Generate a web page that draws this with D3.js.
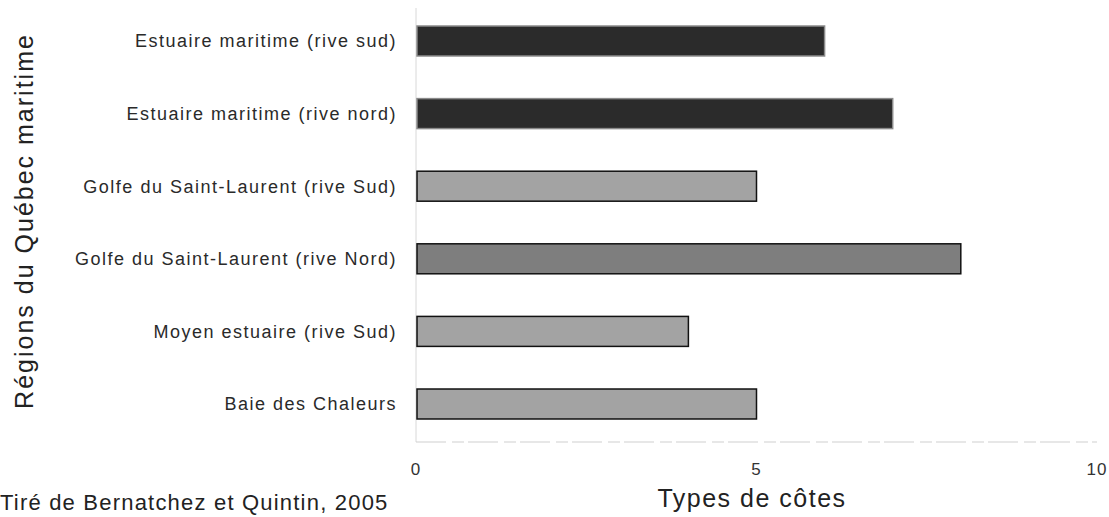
<!DOCTYPE html>
<html><head><meta charset="utf-8">
<script src="https://cdn.jsdelivr.net/npm/d3@7"></script>
<style>body{margin:0;background:#fff}svg{display:block}</style>
</head><body><svg id="c" width="1109" height="517"></svg>
<script>
const categories = ["Estuaire maritime (rive sud)","Estuaire maritime (rive nord)","Golfe du Saint-Laurent (rive Sud)","Golfe du Saint-Laurent (rive Nord)","Moyen estuaire (rive Sud)","Baie des Chaleurs"];
const values = [6,7,5,8,4,5];
const colors = ["#2b2b2b","#2b2b2b","#a3a3a3","#7e7e7e","#a3a3a3","#a3a3a3"];
const strokes = ["#8a8a8a","#8a8a8a","#111","#111","#111","#111"];
const xTicks = [0,5,10];

const svg = d3.select("#c");
const font = "'Liberation Sans', Arial, sans-serif";
const x = d3.scaleLinear().domain([0,10]).range([416,1097]);
const y = d3.scaleBand().domain(categories).range([4.7,440.3]).paddingInner(0.587).paddingOuter(0.2935);

// faint axes
svg.append("line").attr("x1",416).attr("x2",416).attr("y1",8).attr("y2",442).attr("stroke","#d8d8d8").attr("stroke-width",1);
svg.append("line").attr("x1",416).attr("x2",1097).attr("y1",442).attr("y2",442).attr("stroke","#d0d0d0").attr("stroke-width",1.2).attr("stroke-dasharray","30,6,12,4");

svg.selectAll("rect.bar").data(categories).enter().append("rect")
  .attr("x", x(0)+1).attr("y", d=>y(d))
  .attr("width", (d,i)=>x(values[i])-x(0)-1).attr("height", y.bandwidth())
  .attr("fill",(d,i)=>colors[i]).attr("stroke",(d,i)=>strokes[i]).attr("stroke-width",1.5);

svg.selectAll("text.cat").data(categories).enter().append("text")
  .attr("x",397).attr("y",d=>y(d)+y.bandwidth()/2).attr("dy","0.35em")
  .attr("text-anchor","end").attr("font-family",font).attr("font-size",18).attr("letter-spacing","1.5px").attr("fill","#2a2a2a").text(d=>d);

svg.selectAll("text.tick").data(xTicks).enter().append("text")
  .attr("x",d=>x(d)).attr("y",475).attr("text-anchor","middle")
  .attr("font-family",font).attr("font-size",17).attr("letter-spacing","1px").attr("fill","#333").text(d=>d);

svg.append("text").attr("x",752).attr("y",507).attr("text-anchor","middle")
  .attr("font-family",font).attr("font-size",25).attr("letter-spacing","1.5px").attr("fill","#222").text("Types de côtes");

svg.append("text").attr("transform","translate(33,221) rotate(-90)").attr("text-anchor","middle")
  .attr("font-family",font).attr("font-size",25).attr("letter-spacing","2px").attr("fill","#222").text("Régions du Québec maritime");

svg.append("text").attr("x",0).attr("y",510).attr("font-family",font).attr("font-size",22).attr("letter-spacing","1.2px").attr("fill","#222").text("Tiré de Bernatchez et Quintin, 2005");
</script></body></html>
